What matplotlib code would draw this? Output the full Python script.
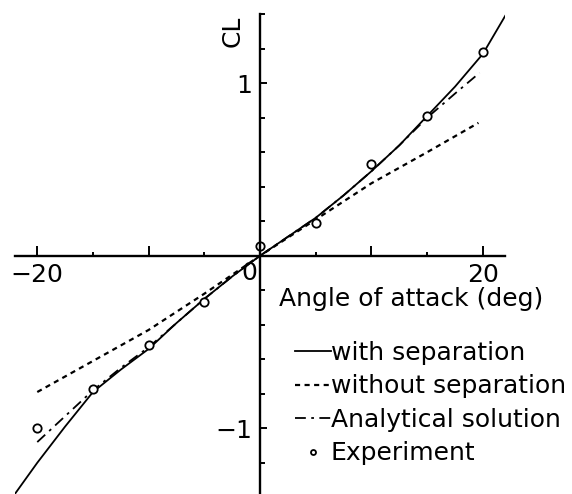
import matplotlib

matplotlib.use("Agg")
import matplotlib.pyplot as plt
from matplotlib.ticker import FixedLocator, MultipleLocator

plt.rcParams["font.family"] = ["DejaVu Sans"]

# Lift coefficient vs angle of attack
alpha_sep = [-22, -20, -17.5, -15, -12.5, -10, -7.5, -5, -2.5, 0,
             2.5, 5, 7.5, 10, 12.5, 15, 17.5, 20, 21, 22]
cl_sep = [-1.38, -1.20, -0.99, -0.79, -0.66, -0.54, -0.39, -0.25, -0.12, 0.0,
          0.11, 0.22, 0.35, 0.49, 0.64, 0.81, 0.98, 1.17, 1.28, 1.39]

alpha_nosep = [-20, -15, -10, -5, 0, 5, 10, 15, 19.6]
cl_nosep = [-0.79, -0.61, -0.43, -0.22, 0.0, 0.21, 0.42, 0.60, 0.77]

alpha_anal = [-20, -17.5, -15, -12.5, -10, -7.5, -5, -2.5, 0,
              2.5, 5, 7.5, 10, 12.5, 15, 17.5, 19.7]
cl_anal = [-1.08, -0.93, -0.78, -0.65, -0.53, -0.39, -0.25, -0.12, 0.0,
           0.11, 0.22, 0.35, 0.49, 0.64, 0.80, 0.94, 1.06]

alpha_exp = [-20, -15, -10, -5, 0, 5, 10, 15, 20]
cl_exp = [-1.00, -0.77, -0.52, -0.27, 0.055, 0.19, 0.53, 0.81, 1.18]

FS = 18

fig = plt.figure(figsize=(5.72, 4.94), dpi=100)
ax = fig.add_axes([0.0262, 0.0, 0.857, 0.9717])
ax.set_xlim(-22, 22)
ax.set_ylim(-1.381, 1.401)

ax.plot(alpha_sep, cl_sep, color="black", lw=1.3, label="with separation")
ax.plot(alpha_nosep, cl_nosep, color="black", lw=1.6, dashes=(2.3, 2.0),
        label="without separation")
ax.plot(alpha_anal, cl_anal, color="black", lw=1.3, dashes=(6, 3, 1.5, 3),
        label="Analytical solution")
ax.plot(alpha_exp, cl_exp, "o", ms=6, mfc="white", mec="black", mew=1.3,
        ls="none", label="Experiment")

# axes crossing at the origin
for side in ("top", "right"):
    ax.spines[side].set_visible(False)
ax.spines["left"].set_position(("data", 0))
ax.spines["bottom"].set_position(("data", 0))
ax.spines["left"].set_linewidth(1.7)
ax.spines["bottom"].set_linewidth(1.7)

ax.xaxis.set_major_locator(FixedLocator([-20, -10, 10, 20]))
ax.xaxis.set_minor_locator(MultipleLocator(5))
ax.set_xticklabels(["\u221220", "", "", "20"])
ax.yaxis.set_major_locator(FixedLocator([-1, 1]))
ax.yaxis.set_minor_locator(MultipleLocator(0.2))
ax.set_yticklabels(["\u22121", "1"])

ax.tick_params(axis="x", which="major", direction="in", length=7, width=1.4,
               pad=5, labelsize=FS)
ax.tick_params(axis="x", which="minor", direction="in", length=3, width=1.4)
ax.tick_params(axis="y", which="major", direction="in", length=5, width=1.4,
               pad=6, labelsize=FS)
ax.tick_params(axis="y", which="minor", direction="in", length=3.5, width=1.4)

ax.text(-0.95, -0.1, "0", ha="center", va="center", fontsize=FS)
ax.text(-2.5, 1.30, "CL", ha="center", va="center", rotation=90, fontsize=FS)
ax.text(1.7, -0.25, "Angle of attack (deg)", ha="left", va="center",
        fontsize=FS)

leg = ax.legend(loc="upper left", bbox_to_anchor=(0.545, 0.345), frameon=False,
                fontsize=FS, handlelength=1.45, handletextpad=0.0,
                labelspacing=0.38, markerscale=0.6, borderpad=0)

fig.savefig("out.png", dpi=100)
